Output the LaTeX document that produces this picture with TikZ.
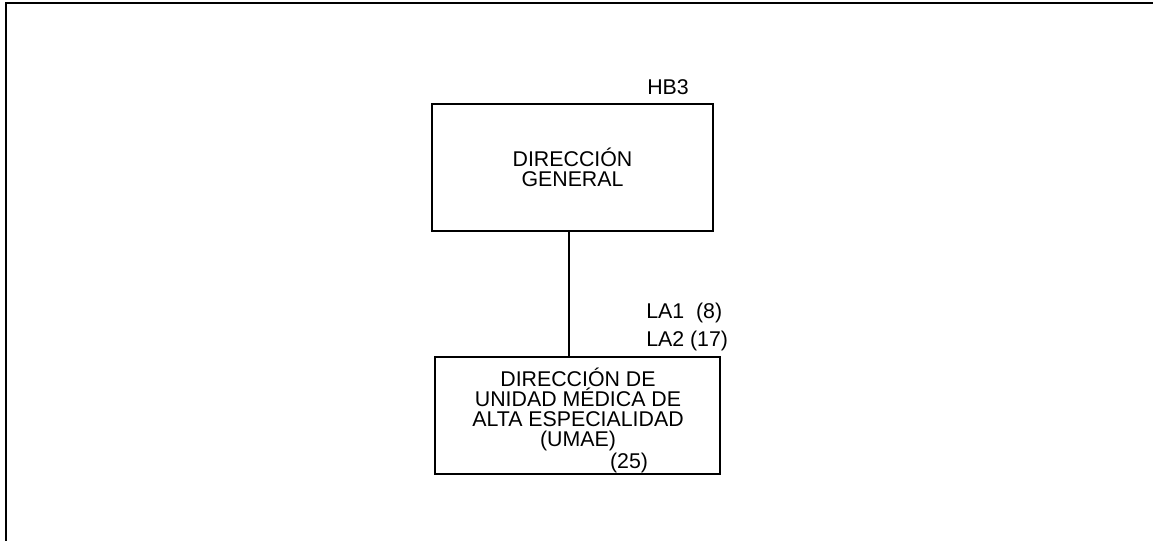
\documentclass[tikz,border=0pt]{standalone}
\usepackage{fontspec}
\setmainfont{Liberation Sans}
\begin{document}
\begin{tikzpicture}[x=0.75pt,y=-0.75pt,
    caja/.style={draw, line width=1.5pt, align=center, inner sep=0pt,
        font=\fontsize{16}{15}\selectfont},
    texto/.style={align=center, inner sep=0pt, font=\fontsize{16}{15}\selectfont},
    etiqueta/.style={anchor=base west, align=left, inner sep=0pt,
        font=\fontsize{16}{21}\selectfont}]
    \useasboundingbox (0,0) rectangle (1153,541);
    % marco
    \draw[line width=2pt] (1153,3) -- (6,3) -- (6,541);
    % cajas
    \node[caja, minimum width=210.75pt, minimum height=95pt] (dg) at (572.5,167.75)
        {DIRECCIÓN\\GENERAL};
    \node[caja, minimum width=214pt, minimum height=87.5pt] (umae) at (577.4,415.3) {};
    \node[texto, anchor=base] (umaetxt) at (578,469)
        {DIRECCIÓN DE\\UNIDAD MÉDICA DE\\ALTA ESPECIALIDAD\\(UMAE)\hspace*{10.5pt}\\[2pt]\hspace*{76.5pt}(25)};
    \node[etiqueta] (hb) at (647,95) {HB3};
    \node[etiqueta] (la) at (646,347) {LA1\ \ (8)\\LA2 (17)};
    \draw[line width=1.5pt] ([xshift=-3pt]dg.south) -- ([xshift=-3pt]dg.south |- umae.north);
\end{tikzpicture}
\end{document}
